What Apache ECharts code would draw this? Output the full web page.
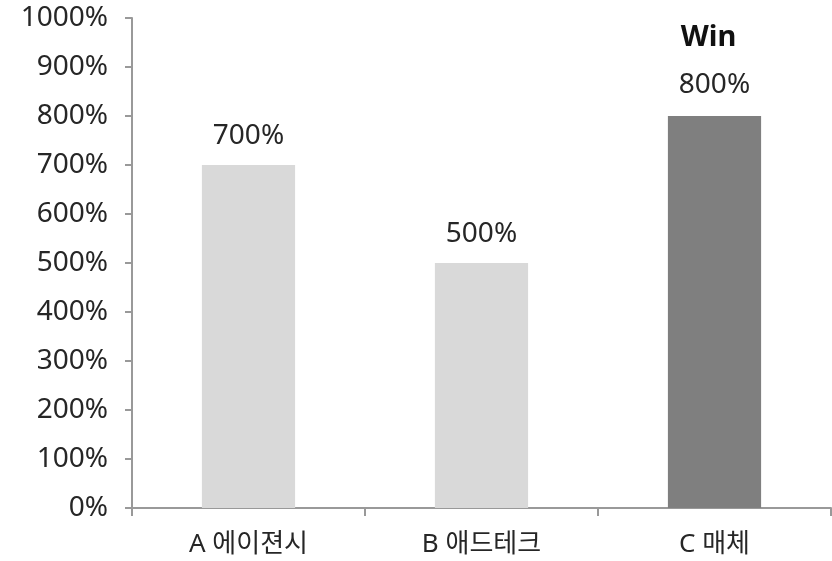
<!DOCTYPE html>
<html>
<head>
<meta charset="utf-8">
<script src="https://cdn.jsdelivr.net/npm/echarts@6/dist/echarts.min.js"></script>
<style>
  html, body { margin: 0; padding: 0; background: #fff; }
  #chart { width: 832px; height: 561px; }
</style>
</head>
<body>
<div id="chart"></div>
<script>
// Campaign efficiency by partner (percent)
const categories = ['A 에이젼시', 'B 애드테크', 'C 매체'];
const values = [700, 500, 800];
const winnerTag = 'Win';
const yTicks = { min: 0, max: 1000, interval: 100 };

const FONT = '"Noto Sans", "Noto Sans CJK KR", sans-serif';
const TEXT = '#262626';
const AXIS = '#999';
const winner = values.indexOf(Math.max(...values));

const seriesData = values.map((v, i) => {
  const item = { value: v, itemStyle: { color: i === winner ? '#7f7f7f' : '#d9d9d9' } };
  if (i === winner) {
    item.label = {
      formatter: '{w|' + winnerTag + '}\n{v|{c}%}',
      rich: {
        w: { fontFamily: FONT, fontSize: 29, fontWeight: 'bold', color: '#111', lineHeight: 62, padding: [0, 12, 0, 0] },
        v: { fontFamily: FONT, fontSize: 28, color: TEXT, lineHeight: 32 }
      }
    };
  }
  return item;
});

const chart = echarts.init(document.getElementById('chart'), null, { renderer: 'canvas' });
chart.setOption({
  animation: false,
  backgroundColor: '#fff',
  grid: { left: 132, right: 1, top: 18, bottom: 53, containLabel: false },
  xAxis: {
    type: 'category',
    data: categories,
    boundaryGap: true,
    axisLine: { lineStyle: { color: AXIS, width: 2 } },
    axisTick: { show: true, length: 8, alignWithLabel: false, lineStyle: { color: AXIS, width: 2 } },
    axisLabel: { fontFamily: FONT, fontSize: 26, color: TEXT, margin: 24 }
  },
  yAxis: {
    type: 'value',
    min: yTicks.min,
    max: yTicks.max,
    interval: yTicks.interval,
    splitLine: { show: false },
    axisLine: { show: true, lineStyle: { color: AXIS, width: 2 } },
    axisTick: { show: true, length: 7, lineStyle: { color: AXIS, width: 2 } },
    axisLabel: { fontFamily: FONT, fontSize: 28, color: TEXT, margin: 24, formatter: v => v + '%' }
  },
  series: [{
    type: 'bar',
    data: seriesData,
    barWidth: '40%',
    label: {
      show: true,
      position: 'top',
      distance: 15,
      fontFamily: FONT,
      fontSize: 28,
      color: TEXT,
      formatter: '{c}%'
    }
  }]
});
</script>
</body>
</html>
